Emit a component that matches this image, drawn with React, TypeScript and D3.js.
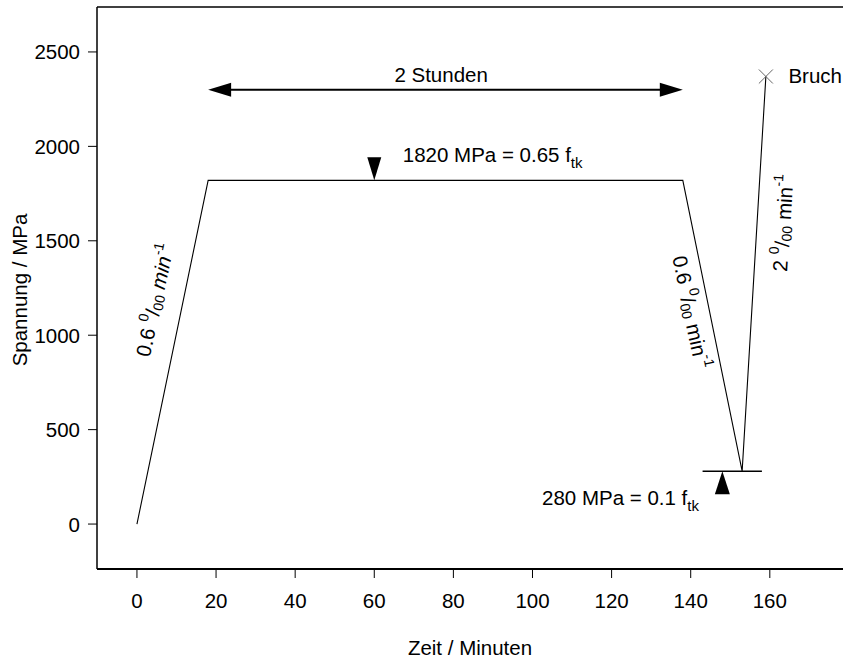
import React from 'react';
import * as d3 from 'd3';

// load path: time in minutes, stress in MPa
const timeMin = [0, 18, 138, 153, 159];
const stressMPa = [0, 1820, 1820, 280, 2370];

const xTicks = [0, 20, 40, 60, 80, 100, 120, 140, 160];
const yTicks = [0, 500, 1000, 1500, 2000, 2500];

const holdLevel = 1820;
const lowLevel = 280;
const lowLevelSpan = [143, 158];
const holdArrowSpan = [18, 138];
const holdArrowLevel = 2300;
const holdMarkerAt = 60;
const lowMarkerAt = 148;

const W = 843;
const H = 660;
const FONT = 'Arial, "Liberation Sans", sans-serif';
const FS = 20.5;
const FS_SMALL = 14;

const App = () => {
  const x = d3.scaleLinear().domain([-10.1, 178.5]).range([97, 843]);
  const y = d3.scaleLinear().domain([-238, 2738]).range([569, 7]);

  const pts = timeMin.map((t, i) => [t, stressMPa[i]] as [number, number]);
  const line = d3.line<[number, number]>().x(d => x(d[0])).y(d => y(d[1]));

  const ay = y(holdArrowLevel);
  const ax0 = x(holdArrowSpan[0]);
  const ax1 = x(holdArrowSpan[1]);
  const headL = 23, headW = 7;

  const dm = x(holdMarkerAt), dy0 = y(holdLevel);
  const um = x(lowMarkerAt), uy0 = y(lowLevel);

  const last = pts[pts.length - 1];
  const bx = x(last[0]), by = y(last[1]);

  // permille with small raised / lowered digits
  const permille = (italicMin: boolean) => [
    <tspan key="a" fontSize={FS_SMALL} dy={-7}>0</tspan>,
    <tspan key="b" fontSize={FS} dy={7}>/</tspan>,
    <tspan key="c" fontSize={FS_SMALL} dy={5}>00</tspan>,
    <tspan key="d" fontSize={FS} dy={-5} fontStyle={italicMin ? 'italic' : 'normal'}> min</tspan>,
    <tspan key="e" fontSize={FS_SMALL} dy={-7}>-1</tspan>,
  ];

  const rotLabel = (tx: number, ty: number, angle: number, lead: string, italicMin: boolean) => (
    <text
      transform={`translate(${x(tx)},${y(ty)}) rotate(${angle})`}
      textAnchor="middle"
      dominantBaseline="central"
      fontSize={FS}
    >
      {lead}{' '}
      {permille(italicMin)}
    </text>
  );

  return (
    <svg width={W} height={H} style={{ position: 'absolute', left: 0, top: 0 }} fontFamily={FONT}>
      <rect width={W} height={H} fill="#fff" />

      {/* frame */}
      <line x1={97} x2={W} y1={7} y2={7} stroke="#000" strokeWidth={1.5} />
      <line x1={97} x2={97} y1={7} y2={569} stroke="#000" strokeWidth={1.5} />
      <line x1={97} x2={W} y1={569} y2={569} stroke="#000" strokeWidth={2} />

      {/* y axis */}
      {yTicks.map(t => (
        <g key={`y${t}`}>
          <line x1={88} x2={97} y1={y(t)} y2={y(t)} stroke="#000" strokeWidth={1} />
          <text x={80} y={y(t)} textAnchor="end" dominantBaseline="central" fontSize={FS}>{t}</text>
        </g>
      ))}
      {/* x axis */}
      {xTicks.map(t => (
        <g key={`x${t}`}>
          <line x1={x(t)} x2={x(t)} y1={569} y2={578} stroke="#000" strokeWidth={1} />
          <text x={x(t)} y={608} textAnchor="middle" fontSize={FS}>{t}</text>
        </g>
      ))}

      <text x={470} y={655} textAnchor="middle" fontSize={FS}>Zeit / Minuten</text>
      <text transform={`translate(19,290) rotate(-90)`} textAnchor="middle" dominantBaseline="central" fontSize={FS}>
        Spannung / MPa
      </text>

      {/* load path */}
      <path d={line(pts) ?? ''} fill="none" stroke="#000" strokeWidth={1.1} />

      {/* lower level line */}
      <line x1={x(lowLevelSpan[0])} x2={x(lowLevelSpan[1])} y1={uy0} y2={uy0} stroke="#000" strokeWidth={1.5} />

      {/* 2h arrow */}
      <line x1={ax0 + headL - 2} x2={ax1 - headL + 2} y1={ay} y2={ay} stroke="#000" strokeWidth={2} />
      <path d={`M${ax0},${ay} L${ax0 + headL},${ay - headW} L${ax0 + headL},${ay + headW} Z`} fill="#000" />
      <path d={`M${ax1},${ay} L${ax1 - headL},${ay - headW} L${ax1 - headL},${ay + headW} Z`} fill="#000" />
      <text x={x(76.9)} y={y(2341)} textAnchor="middle" fontSize={FS}>2 Stunden</text>

      {/* level markers */}
      <path d={`M${dm},${dy0} L${dm - 7},${dy0 - 23} L${dm + 7},${dy0 - 23} Z`} fill="#000" />
      <path d={`M${um},${uy0} L${um - 7.5},${uy0 + 23} L${um + 7.5},${uy0 + 23} Z`} fill="#000" />

      <text x={x(67.2)} y={y(1919)} fontSize={FS}>
        1820 MPa = 0.65 f<tspan fontSize={15} dy={6}>tk</tspan>
      </text>
      <text x={x(102.4)} y={y(100.6)} fontSize={FS}>
        280 MPa = 0.1 f<tspan fontSize={15} dy={6}>tk</tspan>
      </text>

      {/* rate labels */}
      {rotLabel(4.4, 1186, -78, '0.6', true)}
      {rotLabel(140.2, 1123, 78, '0.6', false)}
      {rotLabel(163.2, 1594, -86.5, '2', false)}

      {/* failure point */}
      <g stroke="#666" strokeWidth={1}>
        <line x1={bx - 7} x2={bx + 7} y1={by - 7} y2={by + 7} />
        <line x1={bx - 7} x2={bx + 7} y1={by + 7} y2={by - 7} />
      </g>
      <text x={x(164.7)} y={y(2336)} fontSize={FS}>Bruch</text>
    </svg>
  );
};

export default App;
